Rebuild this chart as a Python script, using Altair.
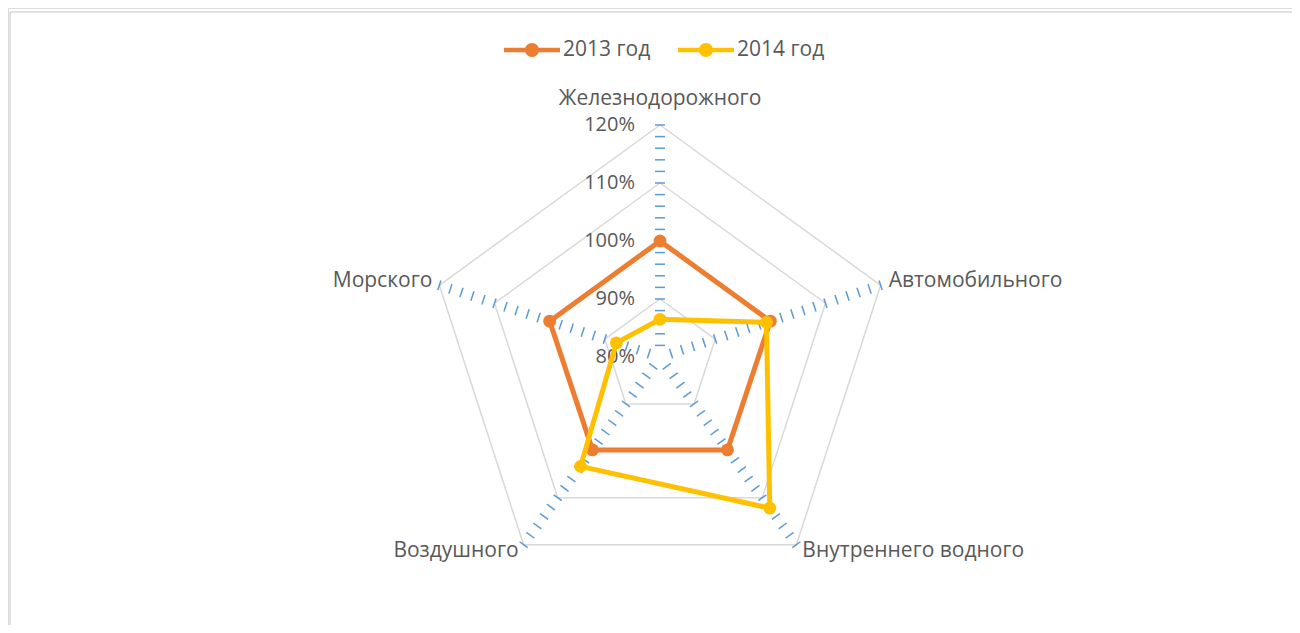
import altair as alt
import pandas as pd

# ---- data ----
categories = ["Железнодорожного", "Автомобильного", "Внутреннего водного", "Воздушного", "Морского"]
series_names = ["2013 год", "2014 год"]
values_2013 = [100.0, 100.0, 99.8, 99.8, 100.0]
values_2014 = [86.5, 99.3, 112.2, 103.3, 87.9]
grid_levels = [90, 100, 110, 120]
axis_label_levels = [80, 90, 100, 110, 120]
tick_levels = [82, 84, 86, 88, 90, 92, 94, 96, 98, 100, 102, 104, 106, 108, 110, 112, 114, 116, 118, 120]
series_colors = ["#ED7D31", "#FFC000"]

CENTER = 80
N = len(categories)

# ---- layout ----
W, H = 1284, 617
PX = 5.8            # pixels per 1 %
CX, CY = 652, 349   # centre of the radar in chart pixels
FONT = "Open Sans"
TXT = "#595959"
FS = 21

xs = alt.Scale(domain=[-CX / PX, (W - CX) / PX], range=[0, W], nice=False, zero=False)
ys = alt.Scale(domain=[-(H - CY) / PX, CY / PX], range=[H, 0], nice=False, zero=False)
X = alt.X("x:Q", scale=xs, axis=None)
Y = alt.Y("y:Q", scale=ys, axis=None)

ANG = f"datum.idx * 2 * PI / {N}"

# ---- tables ----
rows = []
for name, vals in zip(series_names, [values_2013, values_2014]):
    for i in range(N + 1):
        rows.append({"series": name, "idx": i, "category": categories[i % N], "value": vals[i % N]})
series_df = pd.DataFrame(rows)

grid_df = pd.DataFrame([{"level": lv, "idx": i} for lv in grid_levels for i in range(N + 1)])
tick_df = pd.DataFrame([{"level": lv, "idx": i} for lv in tick_levels for i in range(N)])
lab_df = pd.DataFrame({"level": axis_label_levels})
cat_df = pd.DataFrame({"category": categories, "idx": list(range(N))})
one = pd.DataFrame({"a": [0]})


def polar(ch, rexpr):
    return ch.transform_calculate(ang=ANG, r=rexpr).transform_calculate(
        x="datum.r * sin(datum.ang)", y="datum.r * cos(datum.ang)"
    )


# frame
frame_left = alt.Chart(one).mark_rule(color="#D9D9D9", strokeWidth=1.5).encode(
    x=alt.value(2), y=alt.value(4), y2=alt.value(H + 20)
)
frame_top = alt.Chart(one).mark_rule(color="#D9D9D9", strokeWidth=1.5).encode(
    x=alt.value(2), x2=alt.value(W + 20), y=alt.value(4)
)

# grid pentagons
grid = polar(alt.Chart(grid_df), f"datum.level - {CENTER}").mark_line(
    color="#D9D9D9", strokeWidth=1.5
).encode(x=X, y=Y, detail="level:N", order="idx:Q")

# spoke tick marks
h = 5.0 / PX
ticks = alt.Chart(tick_df).transform_calculate(ang=ANG, r=f"datum.level - {CENTER}").transform_calculate(
    x=f"datum.r * sin(datum.ang) + {h} * cos(datum.ang)",
    y=f"datum.r * cos(datum.ang) - {h} * sin(datum.ang)",
    x2=f"datum.r * sin(datum.ang) - {h} * cos(datum.ang)",
    y2=f"datum.r * cos(datum.ang) + {h} * sin(datum.ang)",
).mark_rule(color="#5B9BD5", strokeWidth=1.5).encode(x=X, y=Y, x2="x2:Q", y2="y2:Q")

# value labels on the top spoke
val_labels = alt.Chart(lab_df).transform_calculate(
    x="0", y=f"datum.level - {CENTER}", t="datum.level + '%'"
).mark_text(align="right", baseline="middle", dx=-25, fontSize=20, font=FONT, color=TXT).encode(
    x=X, y=Y, text="t:N"
)

# category labels
cat_style = {
    0: dict(align="center", dx=0, dy=-26),
    1: dict(align="left", dx=8, dy=-4),
    2: dict(align="left", dx=6, dy=6),
    3: dict(align="right", dx=-5, dy=6),
    4: dict(align="right", dx=-7, dy=-4),
}
cat_layers = []
for i in range(N):
    st = cat_style[i]
    cat_layers.append(
        polar(alt.Chart(cat_df).transform_filter(f"datum.idx == {i}"), f"{120 - CENTER}")
        .mark_text(baseline="middle", fontSize=FS, font=FONT, color=TXT, **st)
        .encode(x=X, y=Y, text="category:N")
    )

color_scale = alt.Scale(domain=series_names, range=series_colors)
legend_symbol = (
    "M-1,-0.08L1,-0.08L1,0.08L-1,0.08Z "
    "M0.25,0A0.25,0.25,0,1,1,-0.25,0A0.25,0.25,0,1,1,0.25,0Z"
)

series_layers = []
for k, name in enumerate(series_names):
    base = polar(alt.Chart(series_df).transform_filter(f"datum.series == '{name}'"), f"datum.value - {CENTER}")
    line = base.mark_line(strokeWidth=5, strokeJoin="round").encode(
        x=X, y=Y, order="idx:Q", color=alt.Color("series:N", scale=color_scale)
    )
    pts = base.transform_filter(f"datum.idx < {N}").mark_circle(size=165, opacity=1).encode(
        x=X,
        y=Y,
        color=alt.Color(
            "series:N",
            scale=color_scale,
            legend=alt.Legend(
                orient="none",
                legendX=496,
                legendY=14,
                direction="horizontal",
                title=None,
                symbolType=legend_symbol,
                symbolSize=3136,
                symbolStrokeWidth=0,
                symbolOpacity=1,
                labelFontSize=FS,
                labelFont=FONT,
                labelColor=TXT,
                labelOffset=3,
                columnPadding=27,
            ),
        ),
    )
    series_layers += [line, pts]

chart = (
    alt.layer(frame_left, frame_top, grid, ticks, val_labels, *cat_layers, *series_layers)
    .properties(width=W, height=H, padding=0, autosize=alt.AutoSizeParams(type="none"), background="white")
    .configure_view(stroke=None)
    .configure(font=FONT)
)

chart.save("out.html", embed_options={"renderer": "svg", "actions": False})
